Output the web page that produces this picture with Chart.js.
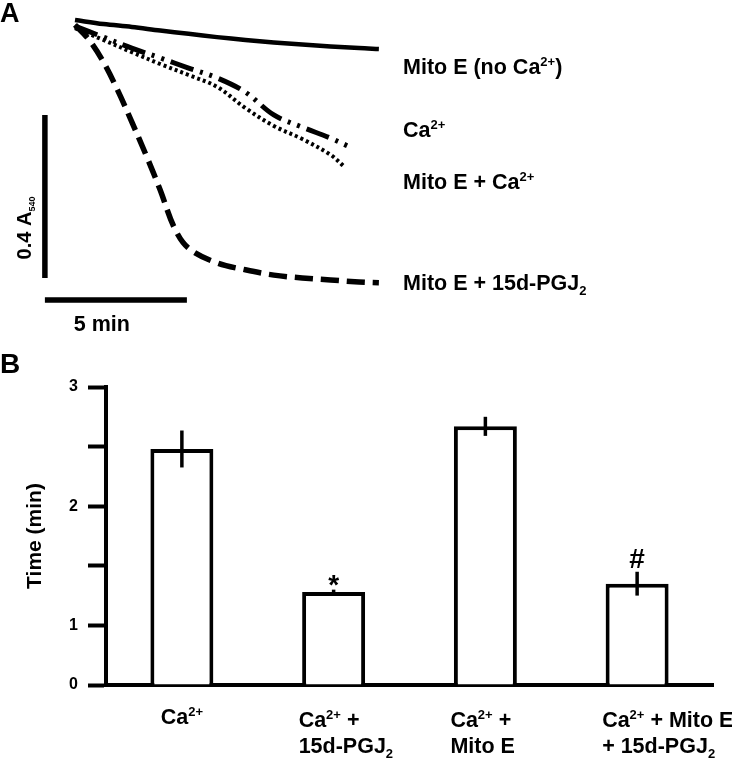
<!DOCTYPE html>
<html>
<head>
<meta charset="utf-8">
<script src="https://cdn.jsdelivr.net/npm/chart.js@4.4.0/dist/chart.umd.min.js"></script>
<style>
  html, body { margin: 0; padding: 0; background: #fff; }
  #wrap { position: relative; width: 732px; height: 759px; }
  #boxA { position: absolute; left: 0; top: 0; }
  #boxB { position: absolute; left: 0; top: 330px; }
</style>
</head>
<body>
<div id="wrap">
  <div id="boxA"><canvas id="trace-chart" width="732" height="340"></canvas></div>
  <div id="boxB"><canvas id="bar-chart" width="732" height="429"></canvas></div>
</div>
<script>
"use strict";

// ---- panel A: A540 traces (change from start) ----
var noCaTimes = [0, 1, 2, 3, 4, 5, 6, 7, 8, 9, 10, 10.7];
var noCaTrace = [0, -0.010, -0.017, -0.026, -0.034, -0.042, -0.049, -0.055, -0.060, -0.065, -0.069, -0.071];

var caTimes = [0, 1, 2, 3, 4, 5, 6, 7, 8, 9, 9.6];
var caTrace = [-0.015, -0.042, -0.069, -0.093, -0.118, -0.142, -0.177, -0.233, -0.263, -0.290, -0.309];

var mitoCaTimes = [0, 1, 2, 3, 4, 5, 6, 7, 8, 9, 9.5];
var mitoCaTrace = [-0.020, -0.049, -0.079, -0.108, -0.135, -0.164, -0.216, -0.260, -0.292, -0.331, -0.361];

var pgjTimes = [0, 0.5, 1, 1.5, 2, 2.5, 3, 3.5, 4, 5, 6, 7, 8, 9, 10, 10.7];
var pgjTrace = [-0.012, -0.049, -0.103, -0.172, -0.250, -0.331, -0.417, -0.510, -0.560, -0.596, -0.613, -0.626, -0.633, -0.638, -0.643, -0.645];

var traceLabels = ["Mito E (no Ca^{2+})", "Ca^{2+}", "Mito E + Ca^{2+}", "Mito E + 15d-PGJ_{2}"];

// scale bars: 0.4 A540 and 5 min
var scaleBarAbs = 0.4;
var scaleBarMin = 5;

// ---- panel B: time to swelling ----
var barCategories = [
  ["Ca^{2+}"],
  ["Ca^{2+} +", "15d-PGJ_{2}"],
  ["Ca^{2+} +", "Mito E"],
  ["Ca^{2+} + Mito E", "+ 15d-PGJ_{2}"]
];
var timeMeans = [2.48, 1.28, 2.67, 1.35];
var timeErrors = [0.155, 0.02, 0.08, 0.10];
var sigMarks = ["", "*", "", "#"];
// the original axis is broken: the bottom tick is labelled 0 but sits half a step below 1
var yTicks = { 0.5: "0", 1: "1", 1.5: "", 2: "2", 2.5: "", 3: "3" };

var FONT = '"Liberation Sans", Arial, Helvetica, sans-serif';
var TXT = 21.5;

function parseRich(s) {
  var out = [], re = /([\^_])\{([^}]*)\}/g, last = 0, m;
  while ((m = re.exec(s))) {
    if (m.index > last) out.push({ t: s.slice(last, m.index), k: "" });
    out.push({ t: m[2], k: m[1] });
    last = re.lastIndex;
  }
  if (last < s.length) out.push({ t: s.slice(last), k: "" });
  return out;
}

function segFont(g, size, small) {
  return "bold " + (g.k ? Math.round(size * (small || 0.6)) : size) + "px " + FONT;
}

// draws "Ca^{2+}" / "PGJ_{2}" style text with raised or lowered small parts
function drawRich(ctx, s, x, y, size, align, small) {
  var segs = parseRich(s);
  ctx.textAlign = "left";
  ctx.textBaseline = "alphabetic";
  var widths = segs.map(function (g) { ctx.font = segFont(g, size, small); return ctx.measureText(g.t).width; });
  var total = widths.reduce(function (a, b) { return a + b; }, 0);
  var cx = align === "center" ? x - total / 2 : x;
  segs.forEach(function (g, i) {
    ctx.font = segFont(g, size, small);
    var dy = g.k === "^" ? -size * 0.36 : g.k === "_" ? size * 0.22 : 0;
    ctx.fillText(g.t, cx, y + dy);
    cx += widths[i];
  });
}

function pts(times, vals) {
  return times.map(function (t, i) { return { x: t, y: vals[i] }; });
}

function traceSet(times, vals, width, dash) {
  return {
    data: pts(times, vals),
    borderColor: "#000",
    borderWidth: width,
    borderDash: dash,
    borderCapStyle: "butt",
    pointRadius: 0,
    tension: 0.35,
    fill: false
  };
}

var panelADecor = {
  id: "panelADecor",
  afterDraw: function (chart) {
    var ctx = chart.ctx, xs = chart.scales.x, ys = chart.scales.y;
    ctx.save();
    ctx.fillStyle = "#000";
    ctx.strokeStyle = "#000";
    ctx.lineCap = "butt";

    // scale bars, placed left of and below the traces
    var barT = -1.06, barTopA = -0.233, barAxisA = -0.687;
    var bx = xs.getPixelForValue(barT);
    ctx.lineWidth = 5.5;
    ctx.beginPath();
    ctx.moveTo(bx, ys.getPixelForValue(barTopA));
    ctx.lineTo(bx, ys.getPixelForValue(barTopA - scaleBarAbs));
    ctx.moveTo(bx, ys.getPixelForValue(barAxisA));
    ctx.lineTo(xs.getPixelForValue(barT + scaleBarMin), ys.getPixelForValue(barAxisA));
    ctx.stroke();

    ctx.save();
    ctx.translate(24, 228);
    ctx.rotate(-Math.PI / 2);
    drawRich(ctx, scaleBarAbs + " A_{540}", 0, 7, 20, "center", 0.45);
    ctx.restore();
    drawRich(ctx, scaleBarMin + " min", bx + 57, 331, TXT, "center");

    var labelY = [74, 137, 189, 290];
    traceLabels.forEach(function (s, i) { drawRich(ctx, s, 403, labelY[i], TXT, "left"); });

    drawRich(ctx, "A", 0, 22, 27, "left");
    ctx.restore();
  }
};

new Chart(document.getElementById("trace-chart"), {
  type: "line",
  data: {
    datasets: [
      traceSet(noCaTimes, noCaTrace, 4.5, []),
      traceSet(caTimes, caTrace, 5, [24, 7, 3, 7, 3, 7]),
      traceSet(mitoCaTimes, mitoCaTrace, 4, [3, 3]),
      traceSet(pgjTimes, pgjTrace, 5.5, [18, 8])
    ]
  },
  options: {
    responsive: false,
    animation: false,
    layout: { padding: { left: 46.6, right: 344.6, top: 3.7, bottom: 10.3 } },
    scales: {
      x: { type: "linear", min: -1, max: 11, display: false },
      y: { type: "linear", min: -0.76, max: 0.04, display: false }
    },
    plugins: { legend: { display: false }, tooltip: { enabled: false } }
  },
  plugins: [panelADecor]
});

var panelBDecor = {
  id: "panelBDecor",
  afterDatasetsDraw: function (chart) {
    var ctx = chart.ctx, ys = chart.scales.y;
    var meta = chart.getDatasetMeta(0);
    ctx.save();
    ctx.strokeStyle = "#000";
    ctx.fillStyle = "#000";
    ctx.lineWidth = 3.5;
    meta.data.forEach(function (bar, i) {
      var top = ys.getPixelForValue(timeMeans[i] + timeErrors[i]);
      var bot = ys.getPixelForValue(timeMeans[i] - timeErrors[i]);
      ctx.beginPath();
      ctx.moveTo(bar.x, top);
      ctx.lineTo(bar.x, bot);
      ctx.stroke();
      if (sigMarks[i]) {
        ctx.font = "bold 28px " + FONT;
        ctx.textAlign = "center";
        ctx.textBaseline = "alphabetic";
        var m = ctx.measureText(sigMarks[i]);
        ctx.fillText(sigMarks[i], bar.x, top - 4 - m.actualBoundingBoxDescent);
      }
    });
    ctx.restore();
  },
  afterDraw: function (chart) {
    var ctx = chart.ctx, xs = chart.scales.x;
    ctx.save();
    ctx.fillStyle = "#000";
    barCategories.forEach(function (lines, i) {
      var x = xs.getPixelForValue(i);
      if (lines.length === 1) {
        drawRich(ctx, lines[0], x, 394, TXT, "center");
      } else {
        lines.forEach(function (s, j) { drawRich(ctx, s, x - 35, 397 + j * 26, TXT, "left"); });
      }
    });
    drawRich(ctx, "B", 0, 43, 28, "left");
    ctx.restore();
  }
};

var yMin = 0.5;
new Chart(document.getElementById("bar-chart"), {
  type: "bar",
  data: {
    labels: barCategories.map(function (l) { return l.join(" "); }),
    datasets: [{
      data: timeMeans,
      base: yMin,
      backgroundColor: "#fff",
      borderColor: "#000",
      borderWidth: 4,
      borderSkipped: "start",
      barPercentage: 0.415,
      categoryPercentage: 1
    }]
  },
  options: {
    responsive: false,
    animation: false,
    layout: { padding: { left: 0, right: 19, top: 57, bottom: 0 } },
    scales: {
      x: {
        z: 1,
        grid: { display: false, drawTicks: false },
        border: { display: true, color: "#000", width: 4 },
        ticks: { display: false },
        afterFit: function (s) { s.height = 74; }
      },
      y: {
        min: yMin,
        max: 3,
        grid: { display: true, drawOnChartArea: false, drawTicks: true, tickLength: 18, tickWidth: 4, tickColor: "#000" },
        border: { display: true, color: "#000", width: 4 },
        ticks: {
          stepSize: 0.5,
          autoSkip: false,
          padding: 10,
          color: "#000",
          font: { family: FONT, size: 16, weight: "bold" },
          callback: function (v) { return yTicks[v] !== undefined ? yTicks[v] : ""; }
        },
        title: {
          display: true,
          text: "Time (min)",
          color: "#000",
          font: { family: FONT, size: 21, weight: "bold" },
          padding: { top: 23, bottom: 0 }
        },
        afterFit: function (s) { s.width = 106; }
      }
    },
    plugins: { legend: { display: false }, tooltip: { enabled: false } }
  },
  plugins: [panelBDecor]
});
</script>
</body>
</html>
